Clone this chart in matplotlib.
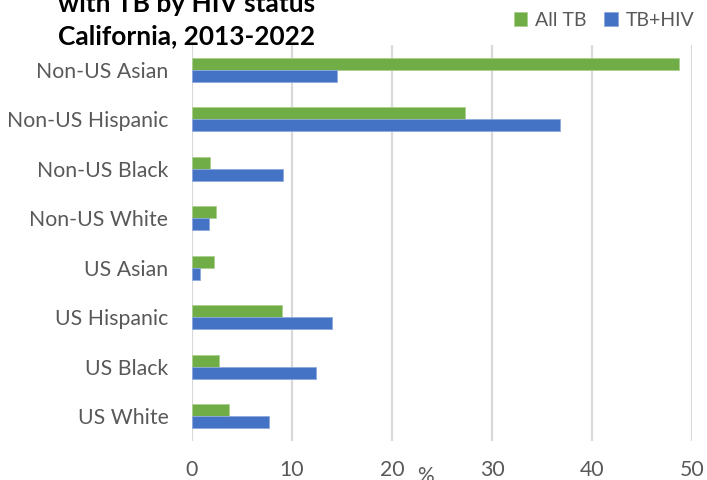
import numpy as np
import matplotlib.pyplot as plt

plt.rcParams['font.family'] = ['Lato', 'DejaVu Sans']

categories = ['US White', 'US Black', 'US Hispanic', 'US Asian',
              'Non-US White', 'Non-US Black', 'Non-US Hispanic', 'Non-US Asian']
all_tb = [3.7, 2.7, 9.0, 2.2, 2.4, 1.8, 27.3, 48.7]
tb_hiv = [7.7, 12.4, 14.0, 0.8, 1.7, 9.1, 36.8, 14.5]

green = '#70AD47'
blue = '#4472C4'
grey = '#595959'

fig = plt.figure(figsize=(7.07, 4.8), dpi=100)
ax = fig.add_axes([192 / 707, 1 - 441 / 480, 500 / 707, 396 / 480])

y = np.arange(len(categories))
h = 0.24
ax.barh(y + h / 2, all_tb, height=h, color=green, edgecolor='#a9d08e', linewidth=0.6,
        label='All TB', zorder=3)
ax.barh(y - h / 2, tb_hiv, height=h, color=blue, edgecolor='#8faadc', linewidth=0.6,
        label='TB+HIV', zorder=3)

ax.set_xlim(0, 50)
ax.set_ylim(-0.5, len(categories) - 0.5)
ax.set_xticks(np.arange(0, 51, 10))
ax.set_yticks(y)
ax.set_yticklabels(categories)
ax.tick_params(axis='both', length=0, labelsize=15.3, labelcolor=grey)
ax.tick_params(axis='x', pad=14)
ax.tick_params(axis='y', pad=17)
ax.grid(axis='x', color='#d9d9d9', linewidth=1.6, zorder=0)
for s in ax.spines.values():
    s.set_visible(False)

fig.text(425 / 707, 1 - 476 / 480, '%', ha='center', va='center', fontsize=15, color=grey)

# title (top line is clipped by the figure edge)
fig.text(58 / 707, 1 - 44 / 480, 'with TB by HIV status\nCalifornia, 2013-2022',
         ha='left', va='baseline', fontsize=18.9, fontweight='bold', color='black',
         linespacing=1.4)

ax.legend(loc='upper right', bbox_to_anchor=(706 / 707, 1.0), bbox_transform=fig.transFigure,
          ncol=2, frameon=False, fontsize=14, labelcolor=grey, handlelength=0.7,
          handleheight=0.7, handletextpad=0.4, columnspacing=0.9, borderaxespad=0.2)

fig.savefig('out.png', dpi=100)
